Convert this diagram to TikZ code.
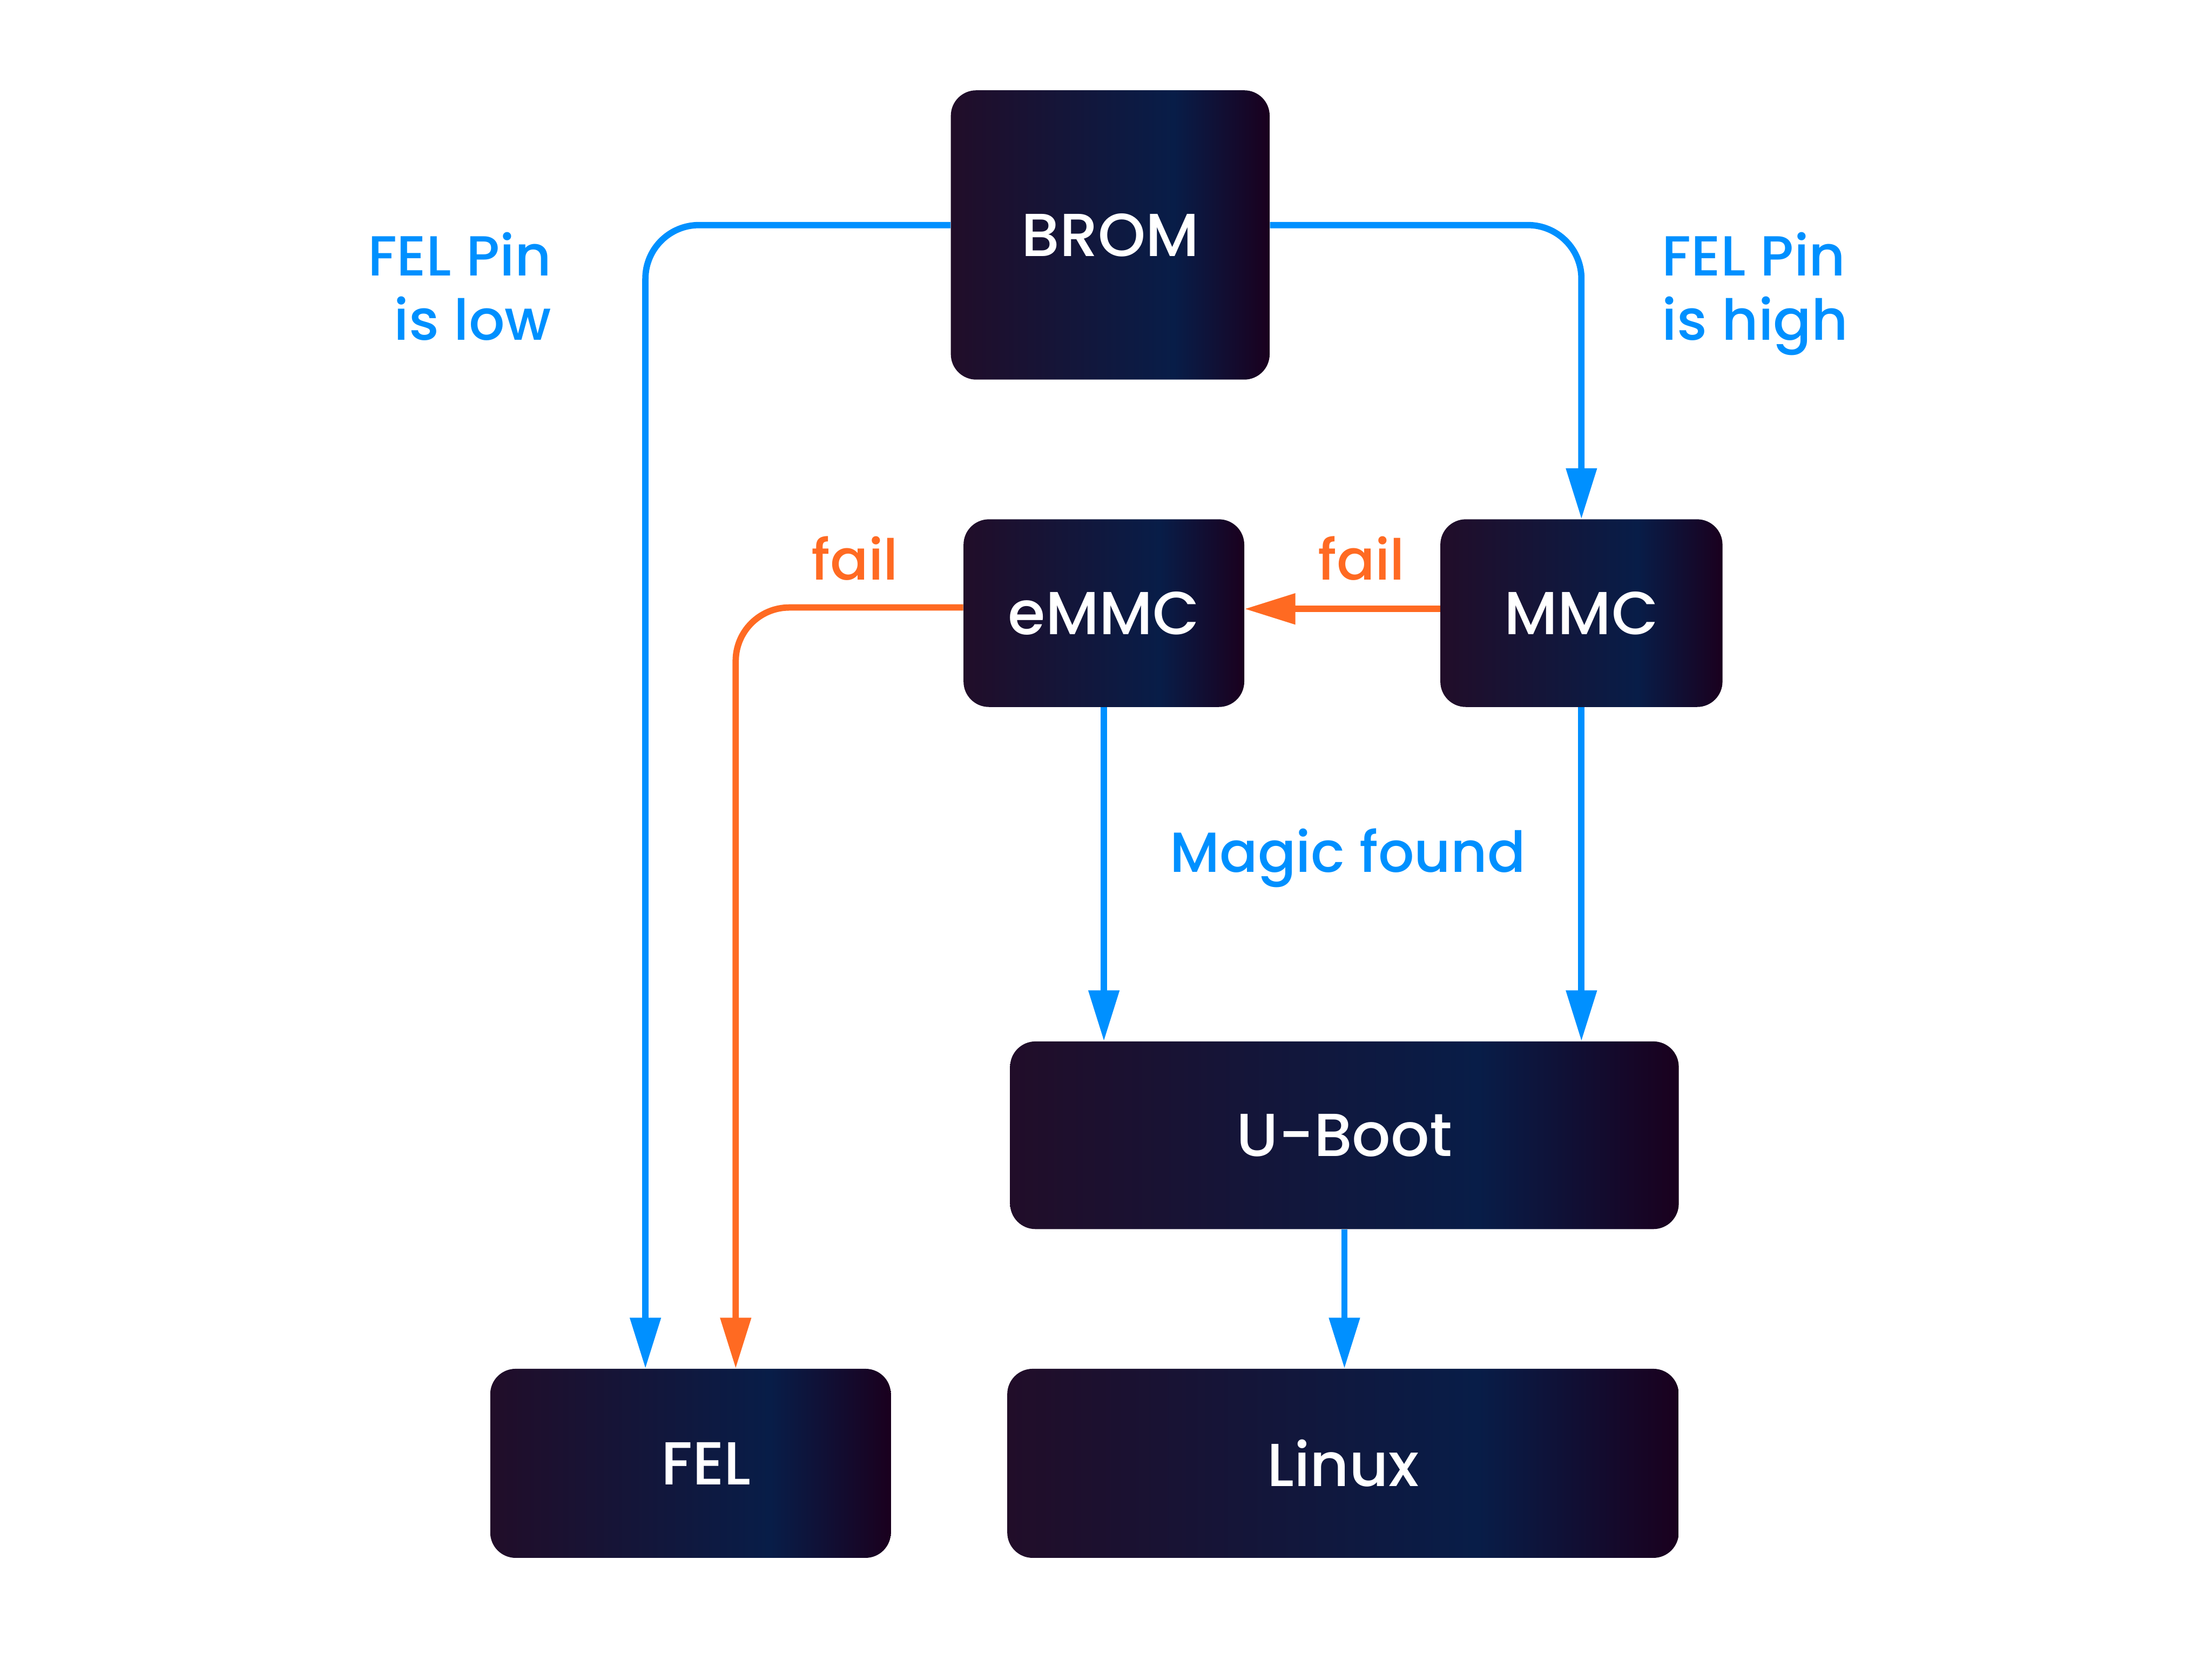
\documentclass[tikz,border=0pt]{standalone}
\usepackage{fontspec}
\setmainfont{Poppins}[UprightFont=* Medium]
\usetikzlibrary{arrows.meta}
\definecolor{boxleft}{RGB}{33,13,41}
\definecolor{boxmid}{RGB}{8,29,72}
\definecolor{boxright}{RGB}{26,0,30}
\definecolor{flowblue}{RGB}{0,144,255}
\definecolor{failorange}{RGB}{255,106,34}
\pgfdeclarehorizontalshading{boxshade}{100bp}{color(0bp)=(boxleft); color(25bp)=(boxleft); color(60bp)=(boxmid); color(75bp)=(boxright); color(100bp)=(boxright)}
\tikzset{
  stage/.style={rectangle, rounded corners=18pt, shading=boxshade, text=white, inner sep=0pt, font=\fontsize{43}{50}\selectfont},
  flow/.style={draw=flowblue, line width=4.5pt, rounded corners=38pt, -{Triangle[length=36pt,width=21pt]}},
  failflow/.style={flow, draw=failorange},
  note/.style={text=flowblue, inner sep=0pt, font=\fontsize{40}{45.5}\selectfont},
  failnote/.style={note, text=failorange}
}
\begin{document}
\begin{tikzpicture}[x=1pt,y=-1pt]
\useasboundingbox (0,0) rectangle (1568,1176);

% Stages
\node [stage, minimum width=226pt, minimum height=205pt] (brom) at (787,166.5) {BROM};
\node [stage, minimum width=199pt, minimum height=133pt] (emmc) at (782.5,434.5) {eMMC};
\node [stage, minimum width=200pt, minimum height=133pt] (mmc) at (1121,434.5) {MMC};
\node [stage, minimum width=474pt, minimum height=133pt] (uboot) at (953,804.5) {U-Boot};
\node [stage, minimum width=284pt, minimum height=134pt] (fel) at (489.5,1037) {\hspace*{22pt}FEL};
\node [stage, minimum width=476pt, minimum height=134pt] (linux) at (952,1037) {Linux};

% Connectors
\draw [flow] ([yshift=7pt]brom.west) -| ([xshift=-32pt]fel.north);
\draw [flow] ([yshift=7pt]brom.east) -| (mmc.north);
\draw [failflow] ([yshift=3pt]mmc.west) -- ([yshift=3pt]emmc.east);
\draw [failflow] ([yshift=4pt]emmc.west) -| ([xshift=32pt]fel.north);
\draw [flow] (emmc.south) -- (emmc.south |- uboot.north);
\draw [flow] (mmc.south) -- (mmc.south |- uboot.north);
\draw [flow] (uboot.south) -- (uboot.south |- linux.north);

% Text Node
\node [note, anchor=base east, align=right] (lowlbl) at (391,241) {FEL Pin\\is low};
% Text Node
\node [note, anchor=base west, align=left] (highlbl) at (1178,241) {FEL Pin\\is high};
% Text Node
\node [failnote, anchor=base] (fail1) at (606,411) {fail};
% Text Node
\node [failnote, anchor=base] (fail2) at (965,411) {fail};
% Text Node
\node [note, anchor=base west] (magic) at (829,618) {Magic found};
\end{tikzpicture}
\end{document}
